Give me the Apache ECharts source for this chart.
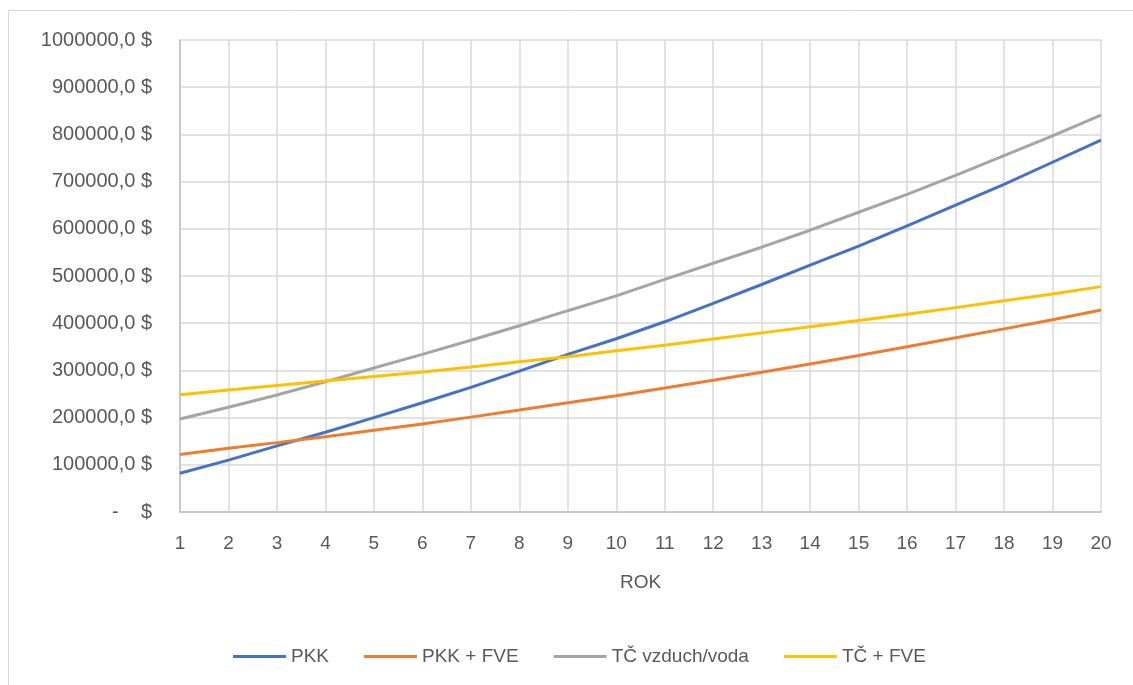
<!DOCTYPE html>
<html>
<head>
<meta charset="utf-8">
<title>PKK / TČ</title>
<script src="https://cdn.jsdelivr.net/npm/echarts@6/dist/echarts.min.js"></script>
<style>
  html, body { margin: 0; padding: 0; background: #fff; }
  #chart { width: 1133px; height: 685px; }
</style>
</head>
<body>
<div id="chart"></div>
<script>
// roky
const years = ['1','2','3','4','5','6','7','8','9','10','11','12','13','14','15','16','17','18','19','20'];

// hodnoty
const pkk = [82000, 110000, 140000, 169000, 200000, 231500, 264000, 298500, 334000, 367000,
  403000, 442000, 482000, 523000, 563500, 606000, 650000, 694000, 741000, 788000];
const pkkFve = [122000, 135000, 147000, 159500, 173000, 186500, 201000, 216000, 231500, 246500,
  262500, 279000, 296000, 313500, 331500, 350000, 369000, 388000, 407500, 428000];
const tcVzduch = [197000, 222000, 248000, 276000, 305000, 334000, 364000, 394500, 426500, 458000,
  493000, 527000, 561000, 597000, 635000, 673000, 713000, 755000, 797000, 841000];
const tcFve = [248500, 258500, 268000, 277500, 287000, 296500, 307000, 318500, 329000, 341500,
  353500, 366500, 379500, 392500, 405500, 419000, 433000, 447500, 462000, 477500];

const names = ['PKK', 'PKK + FVE', 'TČ vzduch/voda', 'TČ + FVE'];
const colors = ['#4472C4', '#ED7D31', '#A5A5A5', '#FFC000'];

const font = 'Liberation Sans';
const textColor = '#595959';

const chart = echarts.init(document.getElementById('chart'));

const mkLine = (name, data, idx) => ({
  name,
  type: 'line',
  data,
  symbol: 'none',
  smooth: false,
  lineStyle: { width: 3, color: colors[idx] },
  itemStyle: { color: colors[idx] },
  z: 3
});

chart.setOption({
  animation: false,
  color: colors,
  textStyle: { fontFamily: font },
  graphic: [{
    type: 'rect',
    shape: { x: 8.5, y: 10.5, width: 1300, height: 900 },
    style: { fill: null, stroke: '#D9D9D9', lineWidth: 1 },
    silent: true
  }],
  grid: { left: 180, right: 32, top: 40, bottom: 173 },
  xAxis: {
    type: 'category',
    data: years,
    boundaryGap: false,
    name: 'ROK',
    nameLocation: 'middle',
    nameGap: 61,
    nameTextStyle: { fontFamily: font, fontSize: 19, color: textColor },
    axisLine: { lineStyle: { color: '#BFBFBF', width: 1.5 } },
    axisTick: { show: false },
    axisLabel: { fontFamily: font, fontSize: 19, color: textColor, margin: 22 },
    splitLine: { show: true, lineStyle: { color: '#D9D9D9', width: 1.5 } }
  },
  yAxis: {
    type: 'value',
    min: 0,
    max: 1000000,
    interval: 100000,
    axisLine: { show: true, lineStyle: { color: '#BFBFBF', width: 1.5 } },
    axisTick: { show: false },
    axisLabel: {
      fontFamily: font, fontSize: 20, color: textColor, margin: 28,
      formatter: v => v === 0 ? '-    $' : v + ',0 $'
    },
    splitLine: { lineStyle: { color: '#D9D9D9', width: 1.5 } }
  },
  legend: {
    data: names,
    left: 228,
    top: 642,
    icon: 'rect',
    itemWidth: 53,
    itemHeight: 3,
    itemGap: 35,
    textStyle: { fontFamily: font, fontSize: 19, color: textColor }
  },
  series: [
    mkLine(names[0], pkk, 0),
    mkLine(names[1], pkkFve, 1),
    mkLine(names[2], tcVzduch, 2),
    mkLine(names[3], tcFve, 3)
  ]
});
</script>
</body>
</html>
